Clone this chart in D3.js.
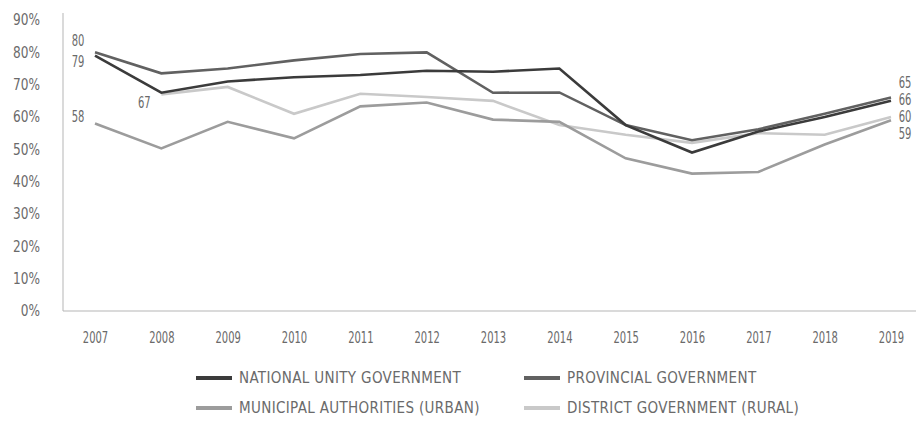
<!DOCTYPE html>
<html>
<head>
<meta charset="utf-8">
<script src="https://cdn.jsdelivr.net/npm/d3@7"></script>
<style>
  html, body { margin: 0; padding: 0; background: #fff; }
  svg { display: block; }
  text { font-family: "DejaVu Sans Condensed", "Liberation Sans Narrow", sans-serif; fill: #6a6a6a; }
  .narrow { transform-box: fill-box; transform-origin: center; transform: scaleX(0.74); }
</style>
</head>
<body>
<svg id="chart" width="922" height="422"></svg>
<script>
const years = [2007, 2008, 2009, 2010, 2011, 2012, 2013, 2014, 2015, 2016, 2017, 2018, 2019];
const yTicks = [0, 10, 20, 30, 40, 50, 60, 70, 80, 90];

const seriesNames = ["NATIONAL UNITY GOVERNMENT", "PROVINCIAL GOVERNMENT", "MUNICIPAL AUTHORITIES (URBAN)", "DISTRICT GOVERNMENT (RURAL)"];
const nationalValues   = [79, 67.5, 71, 72.3, 73, 74.3, 74, 75, 57.5, 49, 55.5, 60, 65];
const provincialValues = [80, 73.5, 75, 77.5, 79.5, 80, 67.5, 67.6, 57.5, 52.8, 56.2, 61, 66];
const municipalValues  = [58, 50.3, 58.5, 53.4, 63.3, 64.5, 59.2, 58.5, 47.2, 42.5, 43, 51.5, 59];
const districtValues   = [null, 67, 69.3, 61, 67.2, 66.2, 65, 57.5, 54.5, 52, 55, 54.5, 60];

const startLabels = ["79", "80", "58", "67"];
const endLabels   = ["65", "66", "59", "60"];

const colors = ["#3b3b3b", "#616161", "#9c9c9c", "#c9c9c9"];
// label offsets (style only)
const startOffsets = [[-17, 7], [-17, -11], [-17, -6], [-17, 9]];
const endOffsets   = [[14, -17], [14, 3], [14, 14], [14, 0]];

const allValues = [nationalValues, provincialValues, municipalValues, districtValues];

const svg = d3.select("#chart");
const x = d3.scalePoint().domain(years).range([95, 891]);
const y = d3.scaleLinear().domain([0, 90]).range([311, 20]);

// axes lines
svg.append("line").attr("x1", 63).attr("x2", 63).attr("y1", 13).attr("y2", 311)
  .attr("stroke", "#b5b5b5").attr("stroke-width", 1);
svg.append("line").attr("x1", 63).attr("x2", 916).attr("y1", 311).attr("y2", 311)
  .attr("stroke", "#b5b5b5").attr("stroke-width", 1);

// y tick labels
const yAxis = d3.axisLeft(y).tickValues(yTicks).tickFormat(d => d + "%").tickSize(0).tickPadding(0);
const yg = svg.append("g").attr("transform", "translate(40,0)").call(yAxis);
yg.select(".domain").remove();
yg.selectAll("text").attr("font-size", 15).attr("fill", "#707070")
  .attr("font-family", "'DejaVu Sans Condensed', sans-serif")
  .style("transform-box", "fill-box").style("transform-origin", "right center").style("transform", "scaleX(0.9)");

// x tick labels
const xAxis = d3.axisBottom(x).tickSize(0).tickPadding(0);
const xg = svg.append("g").attr("transform", "translate(0,332)").call(xAxis);
xg.select(".domain").remove();
xg.selectAll("text").attr("font-size", 15).attr("fill", "#707070")
  .attr("font-family", "'DejaVu Sans Condensed', sans-serif")
  .attr("class", "narrow");

const line = d3.line()
  .defined(d => d.v !== null)
  .x(d => x(d.year)).y(d => y(d.v));

// draw from lightest to darkest
const order = [3, 2, 1, 0];
order.forEach(i => {
  const data = years.map((yr, k) => ({ year: yr, v: allValues[i][k] }));
  svg.append("path").datum(data)
    .attr("fill", "none").attr("stroke", colors[i]).attr("stroke-width", 2.6)
    .attr("stroke-linejoin", "miter").attr("d", line);
});

// start and end labels
allValues.forEach((vals, i) => {
  const defined = years.map((yr, k) => ({ year: yr, v: vals[k] })).filter(d => d.v !== null);
  const first = defined[0], last = defined[defined.length - 1];
  svg.append("text").attr("x", x(first.year) + startOffsets[i][0]).attr("y", y(first.v) + startOffsets[i][1])
    .attr("text-anchor", "middle").attr("dominant-baseline", "middle").attr("font-size", 15)
    .attr("class", "narrow").text(startLabels[i]);
  svg.append("text").attr("x", x(last.year) + endOffsets[i][0]).attr("y", y(last.v) + endOffsets[i][1])
    .attr("text-anchor", "middle").attr("dominant-baseline", "middle").attr("font-size", 15)
    .attr("class", "narrow").text(endLabels[i]);
});

// legend
const legendPos = [[196, 378], [524, 378], [196, 408], [524, 408]];
seriesNames.forEach((name, i) => {
  const g = svg.append("g").attr("transform", `translate(${legendPos[i][0]},${legendPos[i][1]})`);
  g.append("line").attr("x1", 0).attr("x2", 36).attr("y1", 0).attr("y2", 0)
    .attr("stroke", colors[i]).attr("stroke-width", 4);
  g.append("text").attr("x", 43).attr("y", 0).attr("dominant-baseline", "middle")
    .attr("font-size", 15).attr("letter-spacing", 0.35).attr("fill", "#666").text(name);
});
</script>
</body>
</html>
